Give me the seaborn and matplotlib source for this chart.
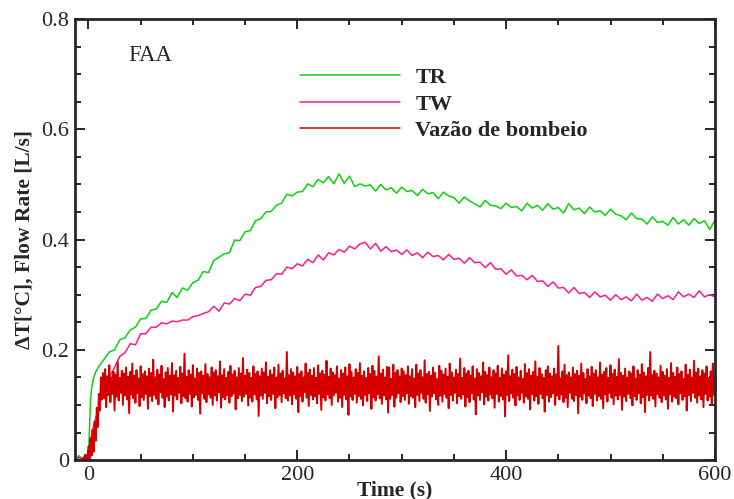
import numpy as np
import pandas as pd
import matplotlib
matplotlib.use("Agg")
import matplotlib.pyplot as plt
from matplotlib.ticker import MultipleLocator, FuncFormatter
import seaborn as sns

# --- Dữ liệu (đơn vị: phần nghìn) ---
# TR (xanh lá): đoạn đầu + mỗi 5 s từ t = 15
tr_time_early = [-12, -9, -6, -3, 0, 1, 2, 3, 5, 7, 10]
tr_early = [3, 8, 2, 10, 5, 60, 110, 130, 150, 160, 170]
tr_vals = [183, 196, 200, 218, 222, 236, 241, 256, 257, 272,
           274, 288, 286, 304, 295, 312, 308, 322, 326, 342,
           340, 362, 368, 374, 376, 399, 398, 414, 416, 434,
           438, 450, 451, 462, 466, 482, 479, 486, 487, 501,
           496, 509, 503, 514, 501, 519, 502, 515, 496, 501,
           497, 499, 488, 500, 490, 494, 484, 495, 487, 489,
           480, 491, 483, 485, 474, 486, 479, 476, 466, 477,
           470, 465, 459, 471, 462, 461, 456, 466, 458, 460,
           452, 466, 457, 462, 453, 465, 455, 458, 448, 465,
           454, 457, 447, 459, 450, 452, 444, 455, 446, 443,
           436, 448, 438, 437, 428, 441, 431, 433, 426, 440,
           428, 436, 426, 438, 429, 434, 418, 435]

# TW (hồng)
tw_time_early = [-12, -9, -6, -3, 0, 2, 4, 6, 8, 10, 12]
tw_early = [0, 5, 0, 8, 2, 35, 55, 70, 82, 95, 112]
tw_vals = [127, 150, 168, 188, 195, 211, 209, 229, 229, 241,
           241, 249, 247, 252, 251, 254, 254, 260, 262, 266,
           269, 279, 270, 285, 283, 293, 289, 301, 299, 313,
           315, 326, 327, 338, 337, 350, 347, 356, 352, 364,
           358, 372, 363, 376, 372, 382, 377, 388, 383, 392,
           395, 383, 393, 379, 387, 378, 381, 373, 381, 371,
           376, 367, 377, 369, 371, 363, 373, 364, 366, 357,
           367, 358, 359, 349, 358, 346, 347, 337, 345, 334,
           335, 327, 335, 324, 325, 315, 323, 312, 313, 303,
           313, 302, 304, 295, 305, 296, 299, 290, 300, 291,
           296, 289, 301, 290, 295, 288, 301, 293, 298, 291,
           305, 296, 301, 295, 307, 296, 300, 296]

# Vazão de bombeio (đỏ): mỗi 1 s
flow_early = [0, 4, 0, 10, 2, 0, 25, 0, 40, 8, 55, 15, 70, 35, 95, 60, 120, 90, 150, 110]
flow_vals = [158, 112, 165, 96, 152, 118, 172, 105, 150, 120, 160, 90, 155, 115, 178, 108, 149, 122, 162, 100,
             157, 117, 168, 110, 151, 85, 160, 119, 175, 112, 153, 104, 163, 121, 148, 98, 170, 114, 156, 109,
             161, 120, 152, 93, 166, 116, 158, 107, 182, 118, 150, 111, 164, 101, 155, 123, 171, 113, 147, 96,
             159, 115, 167, 108, 153, 119, 176, 88, 154, 117, 162, 110, 149, 122, 169, 103, 157, 116, 193, 112,
             151, 106, 163, 120, 155, 97, 172, 114, 148, 118, 166, 109, 158, 84, 161, 121, 153, 111, 174, 105,
             156, 119, 150, 113, 168, 100, 159, 117, 163, 108, 152, 123, 179, 95, 154, 114, 165, 110, 149, 118,
             160, 104, 171, 116, 155, 121, 162, 92, 150, 112, 167, 118, 157, 107, 185, 115, 153, 120, 164, 99,
             158, 113, 149, 106, 170, 119, 156, 110, 161, 80, 152, 117, 166, 111, 159, 122, 177, 103, 151, 116,
             163, 109, 155, 120, 168, 94, 150, 114, 173, 118, 157, 105, 162, 121, 148, 112, 196, 108, 154, 117,
             165, 101, 159, 119, 152, 111, 169, 87, 156, 116, 161, 106, 150, 123, 175, 113, 158, 98, 164, 118,
             153, 110, 167, 115, 149, 103, 172, 120, 157, 91, 162, 114, 155, 108, 180, 119, 151, 112, 166, 100,
             159, 117, 154, 122, 170, 106, 148, 113, 163, 96, 157, 118, 168, 110, 152, 82, 174, 115, 160, 109,
             150, 120, 165, 104, 158, 116, 176, 111, 153, 99, 161, 118, 149, 107, 167, 121, 156, 93, 171, 114,
             162, 108, 151, 119, 188, 112, 157, 102, 164, 117, 150, 110, 169, 86,
             168, 111, 147, 118, 173, 97, 158, 113, 163, 121, 152, 105, 166, 116,
             161, 109, 154, 121, 170, 102, 152, 116, 165, 113, 148, 96, 173, 118, 157, 107, 163, 122, 150, 111,
             181, 104, 156, 119, 160, 89, 153, 115, 168, 121, 158, 110, 147, 100, 171, 117, 162, 106, 155, 120,
             166, 113, 151, 94, 175, 118, 159, 108, 150, 122, 164, 103, 156, 116, 184, 111, 149, 119, 167, 97,
             157, 114, 162, 105, 153, 121, 170, 110, 148, 83, 165, 117, 158, 109, 152, 123, 177, 101, 160, 115,
             154, 108, 168, 119, 150, 112, 163, 95, 157, 120, 171, 106, 149, 116, 166, 110, 155, 79, 161, 118,
             190, 107, 152, 121, 164, 113, 156, 99, 169, 117, 150, 109, 162, 122, 147, 104, 174, 115, 158, 111,
             165, 92, 153, 119, 160, 108, 179, 116, 151, 102, 167, 120, 156, 112, 149, 88, 163, 118, 170, 106,
             157, 114, 152, 121, 166, 100, 155, 117, 207, 110, 148, 119, 161, 105, 173, 113, 154, 96, 159, 122,
             150, 111, 168, 107, 156, 118, 162, 85, 153, 115, 175, 109, 158, 121, 147, 103, 165, 117, 152, 112,
             169, 98, 157, 120, 163, 108, 150, 116, 177, 111, 155, 94, 160, 119, 167, 106, 149, 122, 172, 113,
             156, 101, 164, 117, 151, 110, 183, 118, 158, 91, 153, 115, 166, 107, 150, 120, 161, 112, 157, 99,
             170, 116, 148, 109, 163, 121, 155, 103, 174, 114, 159, 87, 152, 118, 167, 108, 196, 117, 154, 111,
             162, 97, 157, 120, 150, 113, 171, 105, 160, 117, 153, 110, 165, 93, 149, 119, 176, 106, 158, 115,
             151, 112, 168, 101, 156, 121, 161, 109, 147, 116, 173, 90, 155, 118, 164, 107, 150, 122, 180, 113,
             159, 104, 166, 117, 152, 110, 163, 96, 157, 120, 170, 108, 149, 115, 161, 100, 175, 118, 154, 112]

labels = ["TR", "TW", "Vazão de bombeio"]
colors = ["#0fd00f", "#ff1a8c", "#d40000"]

# --- Chuẩn bị DataFrame ---
tr_t = np.concatenate([tr_time_early, 15 + 5 * np.arange(len(tr_vals))])
tw_t = np.concatenate([tw_time_early, 15 + 5 * np.arange(len(tw_vals))])
fl_vals_all = flow_early + flow_vals
fl_t = -6 + np.arange(len(fl_vals_all))

df_tr = pd.DataFrame({"time": tr_t, "value": np.array(tr_early + tr_vals) / 1000})
df_tw = pd.DataFrame({"time": tw_t, "value": np.array(tw_early + tw_vals) / 1000})
df_fl = pd.DataFrame({"time": fl_t, "value": np.array(fl_vals_all) / 1000})

# --- Vẽ ---
sns.set_style("ticks")
plt.rcParams["font.family"] = ["Liberation Serif", "DejaVu Serif"]

fig = plt.figure(figsize=(7.34, 4.99), dpi=100)
ax = fig.add_axes([0.102, 0.078, 0.872, 0.884])

sns.lineplot(data=df_tr, x="time", y="value", color=colors[0], lw=1.1,
             label=labels[0], estimator=None, ax=ax)
sns.lineplot(data=df_tw, x="time", y="value", color=colors[1], lw=1.1,
             label=labels[1], estimator=None, ax=ax)
sns.lineplot(data=df_fl, x="time", y="value", color=colors[2], lw=1.4,
             label=labels[2], estimator=None, ax=ax)

ax.set_xlim(-13, 600)
ax.set_ylim(0, 0.8)
ax.xaxis.set_major_locator(MultipleLocator(200))
ax.xaxis.set_minor_locator(MultipleLocator(50))
ax.yaxis.set_major_locator(MultipleLocator(0.2))
ax.yaxis.set_minor_locator(MultipleLocator(0.05))
fmt = FuncFormatter(lambda v, p: "%g" % round(v, 3))
ax.xaxis.set_major_formatter(fmt)
ax.yaxis.set_major_formatter(fmt)

ax.tick_params(which="both", direction="in", top=True, right=True,
               labelsize=16, width=1.4)
ax.tick_params(which="major", length=7, pad=4)
ax.tick_params(which="minor", length=4)
for s in ax.spines.values():
    s.set_linewidth(2)

ax.set_xlabel("Time (s)", fontsize=15.5, fontweight="bold", labelpad=-3)
ax.set_ylabel("ΔT[°C], Flow Rate [L/s]", fontsize=15.5, fontweight="bold", labelpad=5)

ax.text(0.083, 0.918, "FAA", transform=ax.transAxes, fontsize=16.5,
        ha="left", va="center")

leg = ax.legend(loc="upper left", bbox_to_anchor=(0.352, 0.89), frameon=False,
                borderpad=0, borderaxespad=0, handlelength=4.5, handletextpad=0.68,
                labelspacing=0.27, prop={"weight": "bold", "size": 16})
for line in leg.get_lines():
    line.set_linewidth(1.1)

fig.savefig("out.png", dpi=100)
